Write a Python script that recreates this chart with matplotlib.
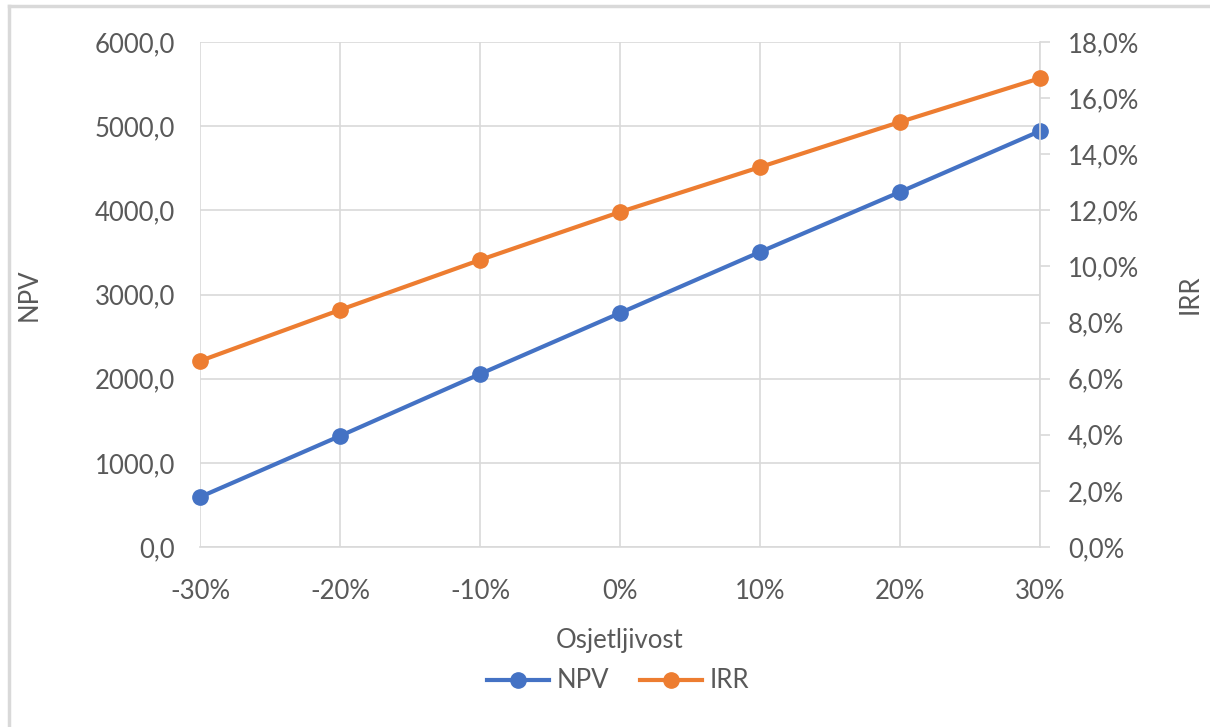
import matplotlib.pyplot as plt
from matplotlib.ticker import FuncFormatter
from matplotlib.lines import Line2D

# osjetljivost (x), NPV i IRR
osjetljivost = [-30, -20, -10, 0, 10, 20, 30]
npv = [594, 1319, 2055, 2780, 3505, 4218, 4942]
irr = [6.63, 8.45, 10.23, 11.94, 13.54, 15.15, 16.71]

plt.rcParams['font.family'] = ['Lato', 'DejaVu Sans']
txt = '#595959'
grid_c = '#D9D9D9'
blue = '#4472C4'
orange = '#ED7D31'
fs = 18.5

fig = plt.figure(figsize=(12.1, 7.27), dpi=100)
ax = fig.add_axes([200/1210, 1-547/727, 840/1210, 505/727])
ax2 = ax.twinx()

l1, = ax.plot(osjetljivost, npv, color=blue, lw=3, marker='o', ms=11, label='NPV', zorder=3, clip_on=False)
l2, = ax2.plot(osjetljivost, irr, color=orange, lw=3, marker='o', ms=11, label='IRR', zorder=3, clip_on=False)

ax.set_xlim(-30, 30)
ax.set_ylim(0, 6000)
ax2.set_ylim(0, 18)
ax.set_xticks(osjetljivost)
ax.set_yticks(range(0, 6001, 1000))
ax2.set_yticks(range(0, 19, 2))

ax.xaxis.set_major_formatter(FuncFormatter(lambda v, p: f"{v:.0f}%"))
ax.yaxis.set_major_formatter(FuncFormatter(lambda v, p: f"{v:.1f}".replace('.', ',')))
ax2.yaxis.set_major_formatter(FuncFormatter(lambda v, p: f"{v:.1f}%".replace('.', ',')))

ax.grid(True, color=grid_c, lw=1.2)
ax.set_axisbelow(True)
for a in (ax, ax2):
    for s in a.spines.values():
        s.set_visible(False)
ax.spines['bottom'].set_visible(True)
ax.spines['bottom'].set_color(grid_c)
ax.spines['bottom'].set_linewidth(1.2)
ax2.spines['right'].set_visible(True)
ax2.spines['right'].set_color(grid_c)
ax2.spines['right'].set_linewidth(1.2)

ax.tick_params(axis='x', length=0, pad=23, labelsize=fs, labelcolor=txt)
ax.tick_params(axis='y', length=0, pad=18, labelsize=fs, labelcolor=txt)
ax2.tick_params(axis='y', length=7, width=1.2, color=grid_c, pad=13, labelsize=fs, labelcolor=txt)

ax.set_ylabel('NPV', fontsize=fs, color=txt)
ax.yaxis.set_label_coords(-158/840, 0.5)
ax2.set_ylabel('IRR', fontsize=fs, color=txt)
ax2.yaxis.set_label_coords(1 + 138/840, 0.5)
ax.set_xlabel('Osjetljivost', fontsize=fs, color=txt)
ax.xaxis.set_label_coords(0.5, -(628-547)/505)

fig.legend(handles=[l1, l2], loc='center', bbox_to_anchor=(618/1210, 1-681/727),
           ncol=2, frameon=False, fontsize=fs, labelcolor=txt,
           handlelength=2.4, columnspacing=1.2, handletextpad=0.3)

# okvir grafikona
fig.add_artist(Line2D([9/1210, 9/1210], [0, 1-6/727], transform=fig.transFigure, color=grid_c, lw=2.5))
fig.add_artist(Line2D([9/1210, 1], [1-6/727, 1-6/727], transform=fig.transFigure, color=grid_c, lw=2.5))

fig.savefig('out.png', dpi=100)
